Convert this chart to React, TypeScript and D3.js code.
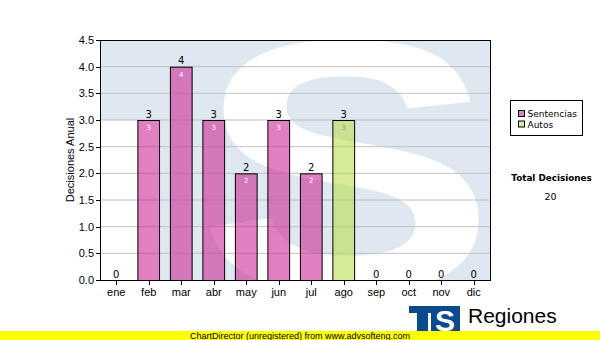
import React from "react";
import * as d3 from "d3";

const months = ["ene", "feb", "mar", "abr", "may", "jun", "jul", "ago", "sep", "oct", "nov", "dic"];
const sentencias = [0, 3, 4, 3, 2, 3, 2, 0, 0, 0, 0, 0];
const autos = [0, 0, 0, 0, 0, 0, 0, 3, 0, 0, 0, 0];
const seriesNames = ["Sentencias", "Autos"];
const yTicks = [0, 0.5, 1, 1.5, 2, 2.5, 3, 3.5, 4, 4.5];
const yTitle = "Decisiones Anual";
const totalLabel = "Total Decisiones";

const W = 600, H = 340;
const M = { left: 100, right: 490, top: 40, bottom: 280 };
const fills = ["#cb2b96", "#b9de4e"];
const innerLabelColors = ["#ffffff", "#9a9a9a"];
const AX = "'Liberation Sans', Arial, sans-serif";
const DV = "'DejaVu Sans', Verdana, sans-serif";

export default function App() {
  const x = d3.scaleBand<string>().domain(months).range([M.left, M.right]).paddingInner(0.3).paddingOuter(0.15);
  const y = d3.scaleLinear().domain([0, 4.5]).range([M.bottom, M.top]);
  const rows = months.map((m, i) => ({ m, Sentencias: sentencias[i], Autos: autos[i] }));
  const stack = d3.stack<any>().keys(seriesNames)(rows);
  const totals = months.map((_, i) => sentencias[i] + autos[i]);
  const grand = d3.sum(totals);
  const bw = x.bandwidth();

  return (
    <div style={{ position: "absolute", left: 0, top: 0 }}>
      <svg width={W} height={H} style={{ display: "block" }}>
        <defs>
          <clipPath id="plotClip">
            <rect x={M.left} y={M.top} width={M.right - M.left} height={M.bottom - M.top} />
          </clipPath>
        </defs>
        <rect x={0} y={0} width={W} height={H} fill="#ffffff" />
        {/* watermark */}
        <g clipPath="url(#plotClip)">
          <rect x={M.left} y={M.top} width={M.right - M.left} height={80} fill="#dfe8f1" />
          <rect x={161} y={M.top} width={M.right - 161} height={M.bottom - M.top} fill="#dfe8f1" />
          <text
            transform="translate(196,291) scale(4.5,3.6)"
            fontFamily={AX}
            fontWeight="bold"
            fontSize={100}
            fill="#ffffff"
          >
            S
          </text>
        </g>
        {/* grid */}
        {yTicks.slice(1, -1).map((t) => (
          <line key={t} x1={M.left} x2={M.right} y1={y(t)} y2={y(t)} stroke="#c0c0c0" strokeWidth={1} />
        ))}
        {/* bars */}
        {stack.map((s, si) =>
          s.map((d, i) => {
            const v = d[1] - d[0];
            if (v <= 0) return null;
            return (
              <g key={`${si}-${i}`}>
                <rect
                  x={x(months[i])! + 0.5}
                  y={y(d[1]) + 0.5}
                  width={bw - 1}
                  height={y(d[0]) - y(d[1])}
                  fill={fills[si]}
                  fillOpacity={0.6}
                  stroke="#000"
                  strokeWidth={1}
                />
                <text
                  x={x(months[i])! + bw / 2}
                  y={y(d[1]) + 10}
                  textAnchor="middle"
                  fontFamily={DV}
                  fontSize={7}
                  fill={innerLabelColors[si]}
                >
                  {v}
                </text>
              </g>
            );
          })
        )}
        {/* total labels */}
        {totals.map((t, i) => (
          <text
            key={i}
            x={x(months[i])! + bw / 2}
            y={y(t) - 2.5}
            textAnchor="middle"
            fontFamily={DV}
            fontSize={10}
            fill="#000"
          >
            {t}
          </text>
        ))}
        {/* frame */}
        <rect x={M.left + 0.5} y={M.top + 0.5} width={M.right - M.left} height={M.bottom - M.top} fill="none" stroke="#000" strokeWidth={1} />
        {/* y axis */}
        {yTicks.map((t) => (
          <g key={t}>
            <line x1={96} x2={M.left} y1={Math.round(y(t)) + 0.5} y2={Math.round(y(t)) + 0.5} stroke="#000" />
            <text x={94} y={y(t) + 4} textAnchor="end" fontFamily={AX} fontSize={11} fill="#000">
              {t.toFixed(1)}
            </text>
          </g>
        ))}
        <text
          transform={`translate(74,${(M.top + M.bottom) / 2}) rotate(-90)`}
          textAnchor="middle"
          fontFamily={AX}
          fontSize={11}
          fill="#000"
        >
          {yTitle}
        </text>
        {/* x axis */}
        {months.map((m) => (
          <g key={m}>
            <line x1={Math.round(x(m)! + bw / 2) + 0.5} x2={Math.round(x(m)! + bw / 2) + 0.5} y1={M.bottom} y2={M.bottom + 5} stroke="#000" />
            <text x={x(m)! + bw / 2} y={296} textAnchor="middle" fontFamily={AX} fontSize={11} fill="#000">
              {m}
            </text>
          </g>
        ))}
        {/* legend */}
        <rect x={510.5} y={100.5} width={72} height={35} fill="#fff" stroke="#000" strokeWidth={1} />
        {seriesNames.map((n, i) => (
          <g key={n}>
            <rect x={518.5} y={110.5 + i * 10.5} width={6} height={6} fill={fills[i]} fillOpacity={0.6} stroke="#000" />
            <text x={527.5} y={117.3 + i * 10.5} fontFamily={DV} fontSize={9} fill="#000">
              {n}
            </text>
          </g>
        ))}
        <text x={551.5} y={181} textAnchor="middle" fontFamily={DV} fontWeight="bold" fontSize={8.8} fill="#000">
          {totalLabel}
        </text>
        <text x={550.5} y={200} textAnchor="middle" fontFamily={DV} fontSize={9.5} fill="#000">
          {grand}
        </text>
        {/* logo */}
        <rect x={409} y={306} width={51} height={26} fill="#0b4a8b" />
        <rect x={409} y={313} width={8} height={20} fill="#fff" />
        <rect x={428} y={313} width={3} height={20} fill="#fff" />
        <text x={445} y={331} textAnchor="middle" fontFamily={AX} fontWeight="bold" fontSize={30} fill="#fff">
          S
        </text>
        <text x={468} y={323} fontFamily={AX} fontSize={21} fill="#000">
          Regiones
        </text>
        <text x={467} y={339} fontFamily={AX} fontSize={11} fill="#000">
          Tribunal Supremo de Justicia
        </text>
        {/* footer */}
        <rect x={0} y={331} width={W} height={9} fill="#ffff00" />
        <text x={300} y={339} textAnchor="middle" fontFamily={AX} fontSize={9} fill="#000">
          ChartDirector (unregistered) from www.advsofteng.com
        </text>
      </svg>
    </div>
  );
}
